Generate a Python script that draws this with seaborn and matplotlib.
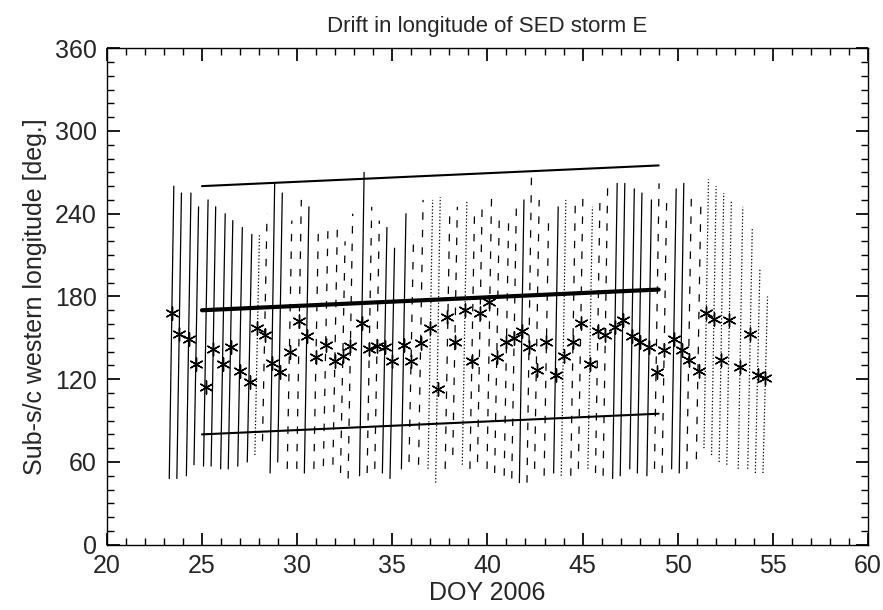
import matplotlib
matplotlib.use("Agg")
import matplotlib.pyplot as plt
import seaborn as sns
import numpy as np
import pandas as pd

doy = [23.4,23.8,24.3,24.7,25.2,25.6,26.1,26.5,27.0,27.5,27.9,28.3,28.7,29.1,29.6,30.1,30.5,31.0,31.5,32.0,32.4,32.8,33.4,33.8,34.2,34.6,35.0,35.6,36.0,36.5,37.0,37.4,37.9,38.3,38.8,39.2,39.6,40.1,40.5,41.0,41.4,41.8,42.2,42.6,43.1,43.6,44.0,44.5,44.9,45.4,45.8,46.2,46.7,47.1,47.6,48.0,48.5,48.9,49.3,49.8,50.2,50.6,51.1,51.5,51.9,52.3,52.7,53.3,53.8,54.2,54.6]
lon = [168,153,149,131,114,142,131,143,126,118,157,152,132,125,140,162,151,136,145,133,137,144,161,142,144,143,133,145,133,146,157,113,165,147,170,133,168,176,136,147,150,155,143,127,147,123,137,147,161,131,155,152,158,163,151,147,143,125,141,149,141,134,126,168,164,134,163,129,153,123,121]
high = [260,255,255,245,250,245,240,235,230,225,225,240,262,255,235,250,245,232,230,235,220,240,270,245,235,230,215,240,225,250,250,252,240,245,250,240,245,255,235,240,245,250,272,250,240,245,250,250,255,245,255,262,262,262,258,255,250,262,250,258,262,255,250,265,260,255,250,245,230,200,180]
low = [48,48,50,58,57,57,55,55,57,60,65,75,52,60,55,55,52,55,57,58,52,48,50,52,55,52,48,55,60,58,55,45,55,65,58,55,60,55,52,50,48,45,45,55,50,52,50,50,55,55,52,50,48,50,55,52,50,55,52,55,52,55,62,70,65,60,58,55,55,52,52]
style = ["-"]*10 + [":","--","-","-","--","--","-","--","--","--","--","--","-","--","--","-","-","-","--","--",":",":","--","--",":","--","--","--","--","--","--","-","--","--","--","-",":","--","--",":","--","--","-","-","-","-","-","--","--","-","-","--","--",":",":",":",":",":",":",":",":"]
style = (style + [":"]*len(doy))[:len(doy)]

drift_x = [25, 49]
drift_mid = [170, 185]
drift_low = [80, 95]
drift_high = [260, 275]

sns.set_theme(style="ticks")
plt.rcParams['font.family'] = ['Liberation Sans', 'DejaVu Sans']
fig = plt.figure(figsize=(8.83, 6.10), dpi=100)
ax = fig.add_axes([0.121, 0.107, 0.862, 0.814])

for x, lo, hi, s in zip(doy, low, high, style):
    ax.plot([x-0.12, x+0.12], [lo, hi], color="black", lw=0.9,
            linestyle=s if s != "--" else (0, (6, 8)))

ax.plot(drift_x, drift_low, color="black", lw=1.5)
ax.plot(drift_x, drift_mid, color="black", lw=3)
ax.plot(drift_x, drift_high, color="black", lw=1.5)

df = pd.DataFrame({"doy": doy, "lon": lon})
sns.scatterplot(data=df, x="doy", y="lon", marker=(6, 2, 0), s=90, color="black", linewidth=1.0, ax=ax, zorder=5)

ax.set_xlim(20, 60)
ax.set_ylim(0, 360)
ax.set_xticks(range(20, 61, 5))
ax.set_yticks(range(0, 361, 60))
ax.set_xticks(np.arange(20, 61, 1), minor=True)
ax.set_yticks(np.arange(0, 361, 10), minor=True)
ax.tick_params(which="both", direction="in", top=True, right=True, labelsize=18, color="black", pad=7)
ax.tick_params(which="major", length=9)
ax.tick_params(which="minor", length=5)
for sp in ax.spines.values():
    sp.set_color("black"); sp.set_linewidth(1)
ax.set_xlabel("DOY 2006", fontsize=18, labelpad=2)
ax.set_ylabel("Sub-s/c western longitude [deg.]", fontsize=18, labelpad=6)
ax.set_title("Drift in longitude of SED storm E", fontsize=16, pad=12)
fig.savefig("out.png", dpi=100)
